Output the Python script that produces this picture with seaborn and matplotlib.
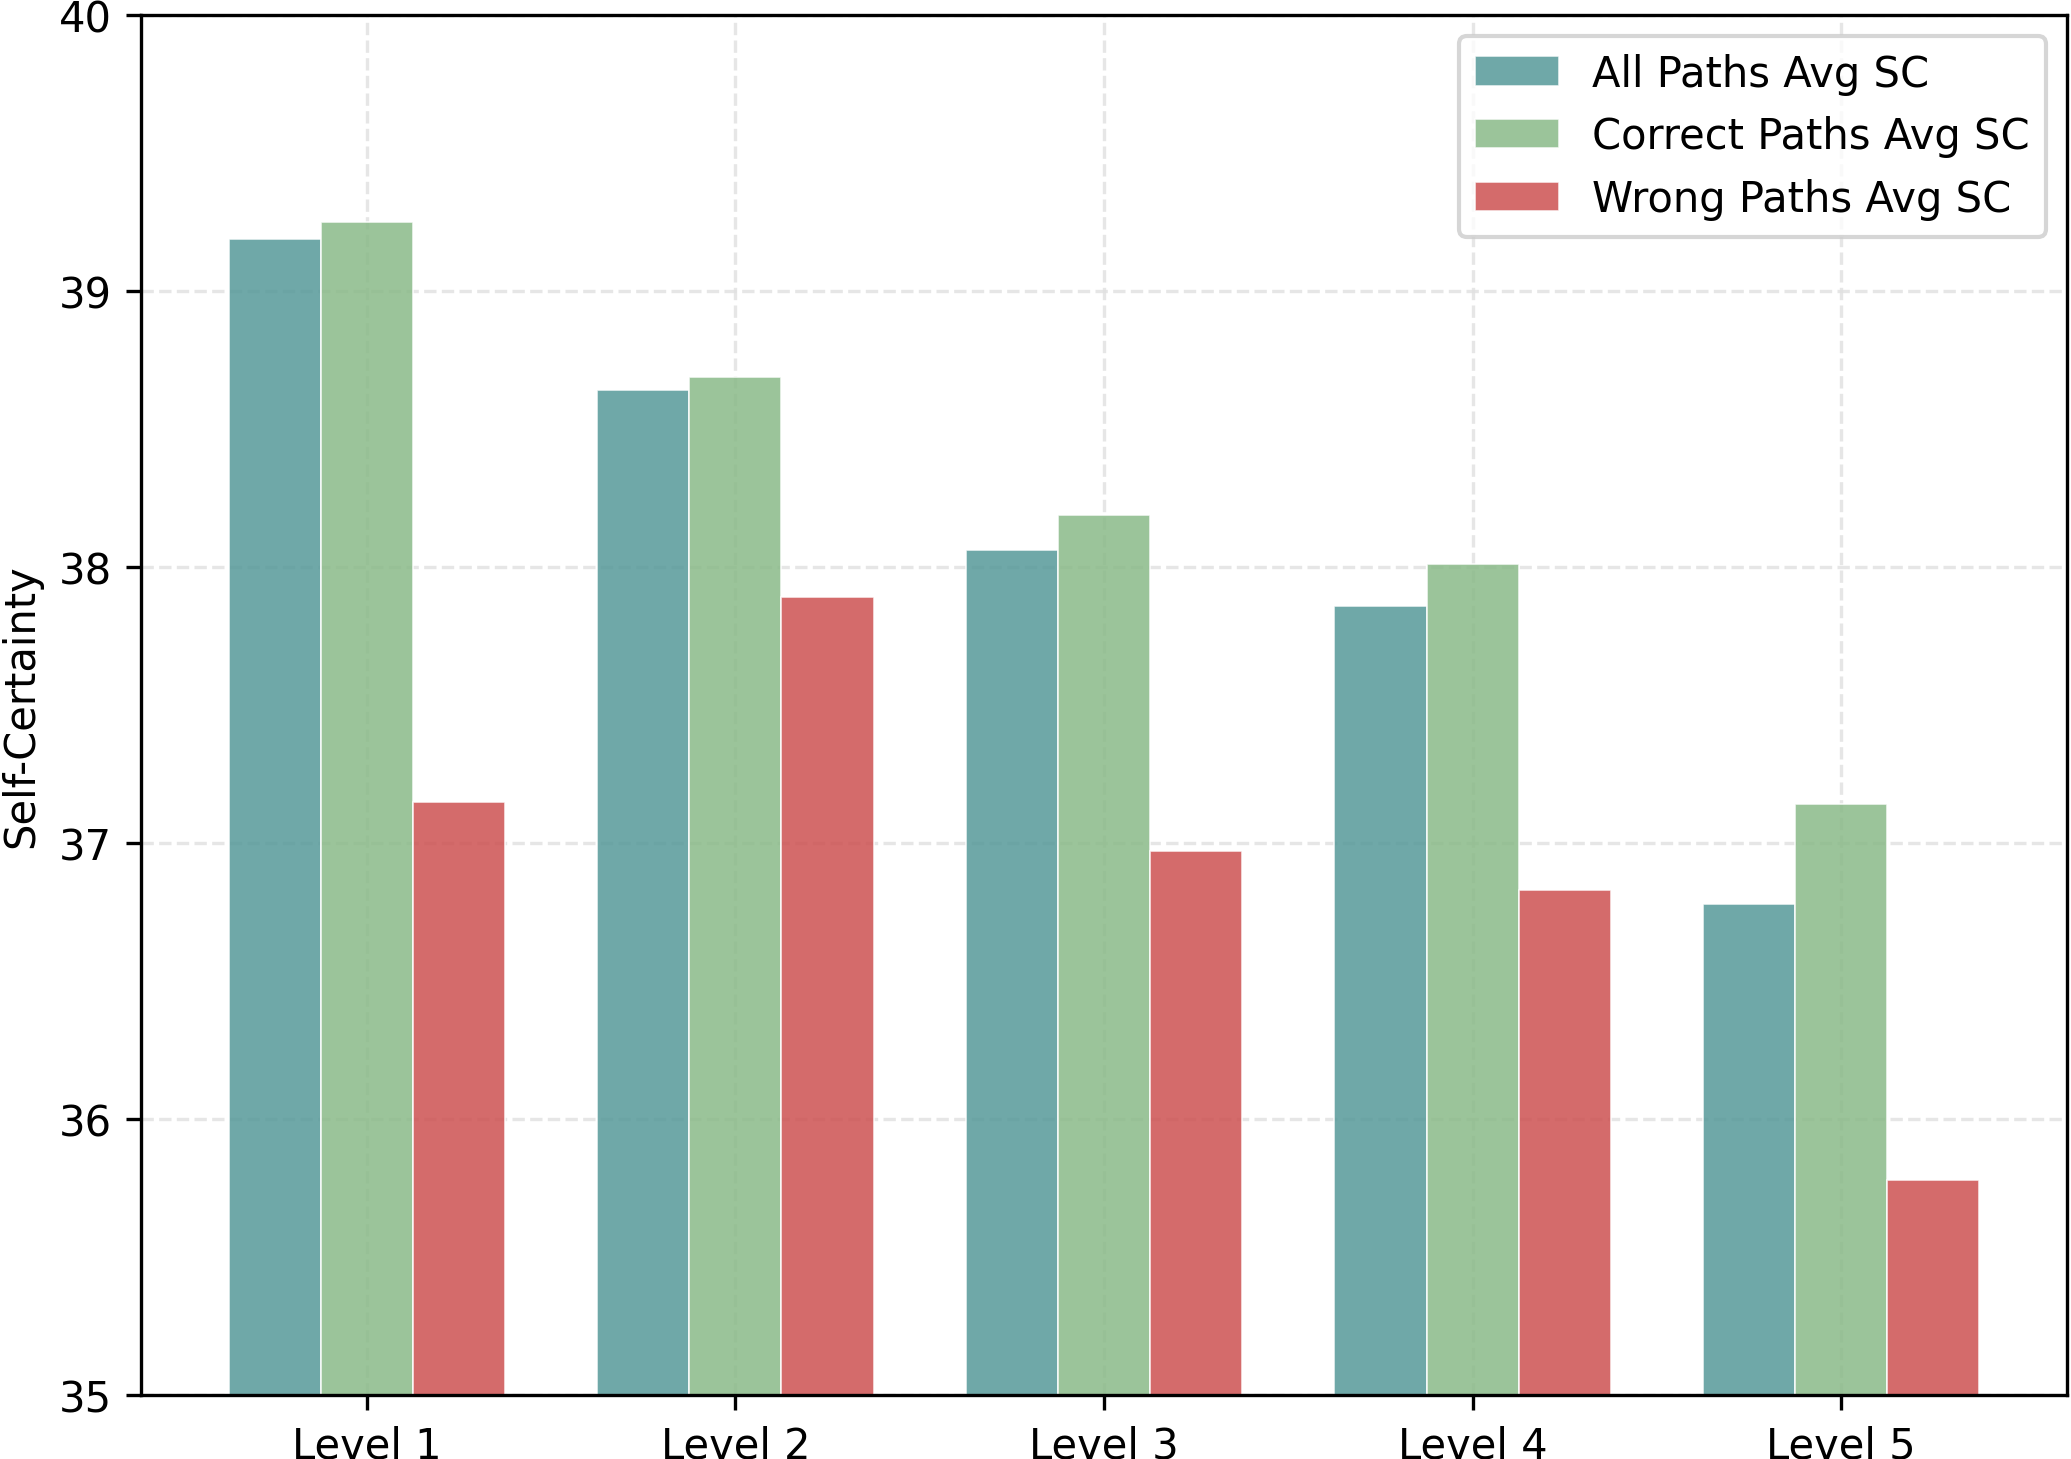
import matplotlib
matplotlib.use("Agg")
import matplotlib.pyplot as plt
import seaborn as sns
import pandas as pd

levels = ["Level 1", "Level 2", "Level 3", "Level 4", "Level 5"]
series_names = ["All Paths Avg SC", "Correct Paths Avg SC", "Wrong Paths Avg SC"]
all_sc = [39.19, 38.64, 38.06, 37.86, 36.78]
correct_sc = [39.25, 38.69, 38.19, 38.01, 37.14]
wrong_sc = [37.15, 37.89, 36.97, 36.83, 35.78]
colors = ["#569999", "#8aba88", "#cd5151"]

rows = []
for name, vals in zip(series_names, [all_sc, correct_sc, wrong_sc]):
    for lv, v in zip(levels, vals):
        rows.append({"Level": lv, "Series": name, "SC": v})
df = pd.DataFrame(rows)

plt.rcParams['font.family'] = ['DejaVu Sans']
fig = plt.figure(figsize=(2071/300, 1460/300), dpi=300)
ax = fig.add_axes([141/2071, 1-1396/1460, (2067-141)/2071, (1396-16)/1460])

sns.barplot(data=df, x="Level", y="SC", hue="Series", order=levels,
            hue_order=series_names, palette=colors, width=0.75, saturation=1,
            alpha=0.85, edgecolor="white", linewidth=0.4, ax=ax)

ax.set_ylim(35, 40)
ax.set_xlim(-0.6125, 4.6125)
ax.set_axisbelow(True)
ax.grid(True, linestyle="--", color="#e0e0e0", linewidth=0.8, alpha=0.8)
ax.set_xlabel("")
ax.set_ylabel("Self-Certainty", fontsize=10)
ax.tick_params(labelsize=10)
for s in ax.spines.values():
    s.set_visible(True)
    s.set_linewidth(0.8)
leg = ax.legend(loc="upper right", fontsize=10, frameon=True)
fig.savefig("out.png", dpi=300)
